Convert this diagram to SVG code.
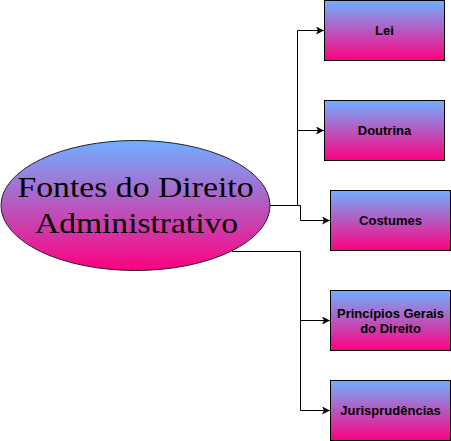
<svg xmlns="http://www.w3.org/2000/svg" width="451" height="441" viewBox="0 0 451 441">
<defs>
<linearGradient id="g" x1="0" y1="0" x2="0" y2="1">
<stop offset="0" stop-color="#6FB0FF"/>
<stop offset="1" stop-color="#FF0080"/>
</linearGradient>
<marker id="arr" viewBox="0 0 10 10" refX="10" refY="5" markerWidth="8" markerHeight="8" markerUnits="userSpaceOnUse" orient="auto">
<path d="M0,0 L10,5 L0,10 L2.5,5 Z" fill="#000"/>
</marker>
</defs>
<style>
.box{fill:url(#g);stroke:#000;stroke-width:1}
.lbl{font-family:"Liberation Sans",Arial,sans-serif;font-weight:bold;font-size:13px;fill:#000;text-anchor:middle}
.edge{fill:none;stroke:#000;stroke-width:1;marker-end:url(#arr)}
.big{font-family:"Liberation Serif","Times New Roman",serif;font-size:30px;fill:#000;text-anchor:middle}
</style>
<g id="connectors">
<path class="edge" d="M270,205.5 H297.5 V30.5 H324"/>
<path class="edge" d="M270,205.5 H297.5 V130.5 H324"/>
<path class="edge" d="M270,205.5 H300.5 V220.5 H330"/>
<path class="edge" d="M232,251.5 H300.5 V320.5 H330"/>
<path class="edge" d="M232,251.5 H300.5 V410.5 H330"/>
</g>
<g id="main">
<ellipse cx="135.5" cy="205.5" rx="134.5" ry="65" fill="url(#g)" stroke="#222" stroke-width="1"/>
<text class="big" x="135.5" y="197" textLength="236" lengthAdjust="spacingAndGlyphs">Fontes do Direito</text>
<text class="big" x="136.5" y="233" textLength="203" lengthAdjust="spacingAndGlyphs">Administrativo</text>
</g>
<g id="lei">
<rect class="box" x="324.5" y="0.5" width="120" height="60"/>
<text class="lbl" x="384.5" y="35">Lei</text>
</g>
<g id="doutrina">
<rect class="box" x="324.5" y="100.5" width="120" height="60"/>
<text class="lbl" x="384.5" y="135">Doutrina</text>
</g>
<g id="costumes">
<rect class="box" x="330.5" y="190.5" width="120" height="60"/>
<text class="lbl" x="390.5" y="225">Costumes</text>
</g>
<g id="principios">
<rect class="box" x="330.5" y="290.5" width="120" height="60"/>
<text class="lbl" x="390.5" y="318">Princípios Gerais</text>
<text class="lbl" x="390.5" y="333">do Direito</text>
</g>
<g id="jurisprudencias">
<rect class="box" x="330.5" y="380.5" width="120" height="60"/>
<text class="lbl" x="390.5" y="415">Jurisprudências</text>
</g>
</svg>
